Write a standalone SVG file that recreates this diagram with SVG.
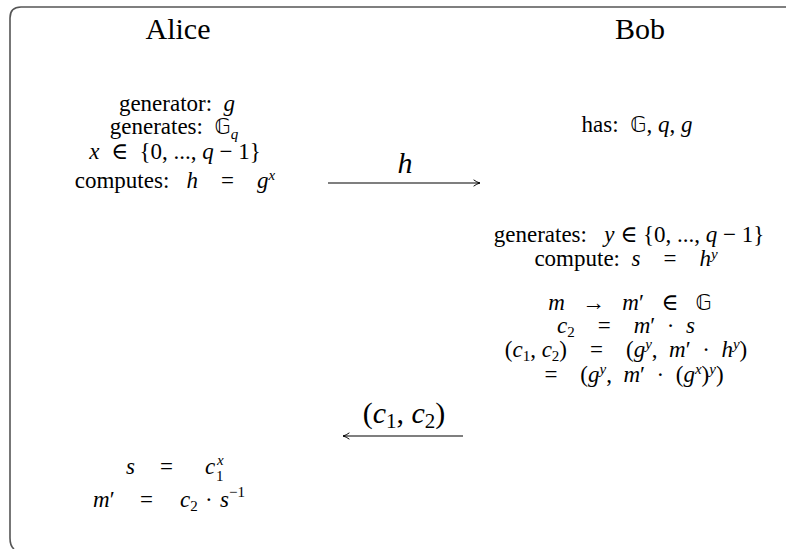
<svg xmlns="http://www.w3.org/2000/svg" width="786" height="549" viewBox="0 0 786 549">
<style>
text{font-family:"Liberation Serif","DejaVu Serif",serif;fill:#000;white-space:pre;}
.h{font-size:30px;}
.t{font-size:23px;}
.big{font-size:30px;}
.m{font-style:italic;}
.s{font-size:15px;}
.ds{font-family:"DejaVu Sans","Noto Sans",sans-serif;font-style:normal;font-size:21px;}
.ln{stroke:#000;stroke-width:1.2;fill:none;}
</style>
<defs>
<marker id="ah" viewBox="0 0 10 10" refX="9" refY="5" markerWidth="8" markerHeight="8" markerUnits="userSpaceOnUse" orient="auto">
<path d="M1,1 Q5,4 9,5 Q5,6 1,9" fill="none" stroke="#000" stroke-width="1.2"/>
</marker>
</defs>
<rect width="786" height="549" fill="#fff"/>
<path d="M14,549 Q10,546 10,538 L10,18 Q10,7 21,7 L786,7" fill="none" stroke="#555" stroke-width="1.6"/>

<g id="alice-title"><text class="h" x="178" y="39" text-anchor="middle">Alice</text></g>
<g id="bob-title"><text class="h" x="640" y="39" text-anchor="middle">Bob</text></g>

<g id="alice-setup" class="t">
<text x="177" y="111" text-anchor="middle">generator:  <tspan class="m">g</tspan></text>
<text x="174" y="134" text-anchor="middle">generates:  <tspan class="ds">𝔾</tspan><tspan class="m s" dy="5">q</tspan></text>
<text x="175" y="159" text-anchor="middle"><tspan class="m">x</tspan>  ∈  {0, ..., <tspan class="m">q</tspan> − 1}</text>
<text x="175" y="188" text-anchor="middle">computes:   <tspan class="m">h</tspan>    =    <tspan class="m">g</tspan><tspan class="m s" dy="-8">x</tspan></text>
</g>

<g id="bob-setup" class="t">
<text x="637" y="132" text-anchor="middle">has:  <tspan class="ds">𝔾</tspan>, <tspan class="m">q</tspan>, <tspan class="m">g</tspan></text>
<text x="629" y="242" text-anchor="middle">generates:   <tspan class="m">y</tspan> ∈ {0, ..., <tspan class="m">q</tspan> − 1}</text>
<text x="626" y="266" text-anchor="middle">compute:  <tspan class="m">s</tspan>    =    <tspan class="m">h</tspan><tspan class="m s" dy="-7">y</tspan></text>
</g>

<g id="bob-encrypt" class="t">
<text x="630" y="310" text-anchor="middle"><tspan class="m">m</tspan>   →   <tspan class="m">m</tspan>′   ∈   <tspan class="ds">𝔾</tspan></text>
<text x="626" y="333" text-anchor="middle"><tspan class="m">c</tspan><tspan class="s" dy="4">2</tspan><tspan dy="-4">    =    </tspan><tspan class="m">m</tspan>′  ·  <tspan class="m">s</tspan></text>
<text x="626" y="357" text-anchor="middle">(<tspan class="m">c</tspan><tspan class="s" dy="4">1</tspan><tspan dy="-4">, </tspan><tspan class="m">c</tspan><tspan class="s" dy="4">2</tspan><tspan dy="-4">)    =    (</tspan><tspan class="m">g</tspan><tspan class="m s" dy="-8">y</tspan><tspan dy="8">,  </tspan><tspan class="m">m</tspan>′  ·  <tspan class="m">h</tspan><tspan class="m s" dy="-8">y</tspan><tspan dy="8">)</tspan></text>
<text x="634" y="382" text-anchor="middle">=    (<tspan class="m">g</tspan><tspan class="m s" dy="-8">y</tspan><tspan dy="8">,  </tspan><tspan class="m">m</tspan>′  ·  (<tspan class="m">g</tspan><tspan class="m s" dy="-8">x</tspan><tspan dy="8">)</tspan><tspan class="m s" dy="-8">y</tspan><tspan dy="8">)</tspan></text>
</g>

<g id="alice-decrypt" class="t">
<text x="126" y="474"><tspan class="m">s</tspan><tspan x="160">=</tspan><tspan class="m" x="205">c</tspan></text>
<text x="217" y="465" class="m s">x</text>
<text x="216" y="481" class="s">1</text>
<text x="93" y="507"><tspan class="m">m</tspan>′<tspan x="140">=</tspan><tspan class="m" x="180">c</tspan><tspan class="s" dy="4">2</tspan><tspan dy="-4" x="205">·</tspan><tspan class="m" x="220">s</tspan><tspan class="s" dy="-10">−1</tspan></text>
</g>

<g id="connectors">
<g id="msg-h">
<line class="ln" x1="328" y1="183" x2="480" y2="183" marker-end="url(#ah)"/>
<text class="big m" x="405" y="173" text-anchor="middle">h</text>
</g>
<g id="msg-c">
<line class="ln" x1="463" y1="436" x2="343" y2="436" marker-end="url(#ah)"/>
<text class="big" x="404" y="423" text-anchor="middle">(<tspan class="m">c</tspan><tspan font-size="21" dy="5">1</tspan><tspan dy="-5">, </tspan><tspan class="m">c</tspan><tspan font-size="21" dy="5">2</tspan><tspan dy="-5">)</tspan></text>
</g>
</g>
</svg>
